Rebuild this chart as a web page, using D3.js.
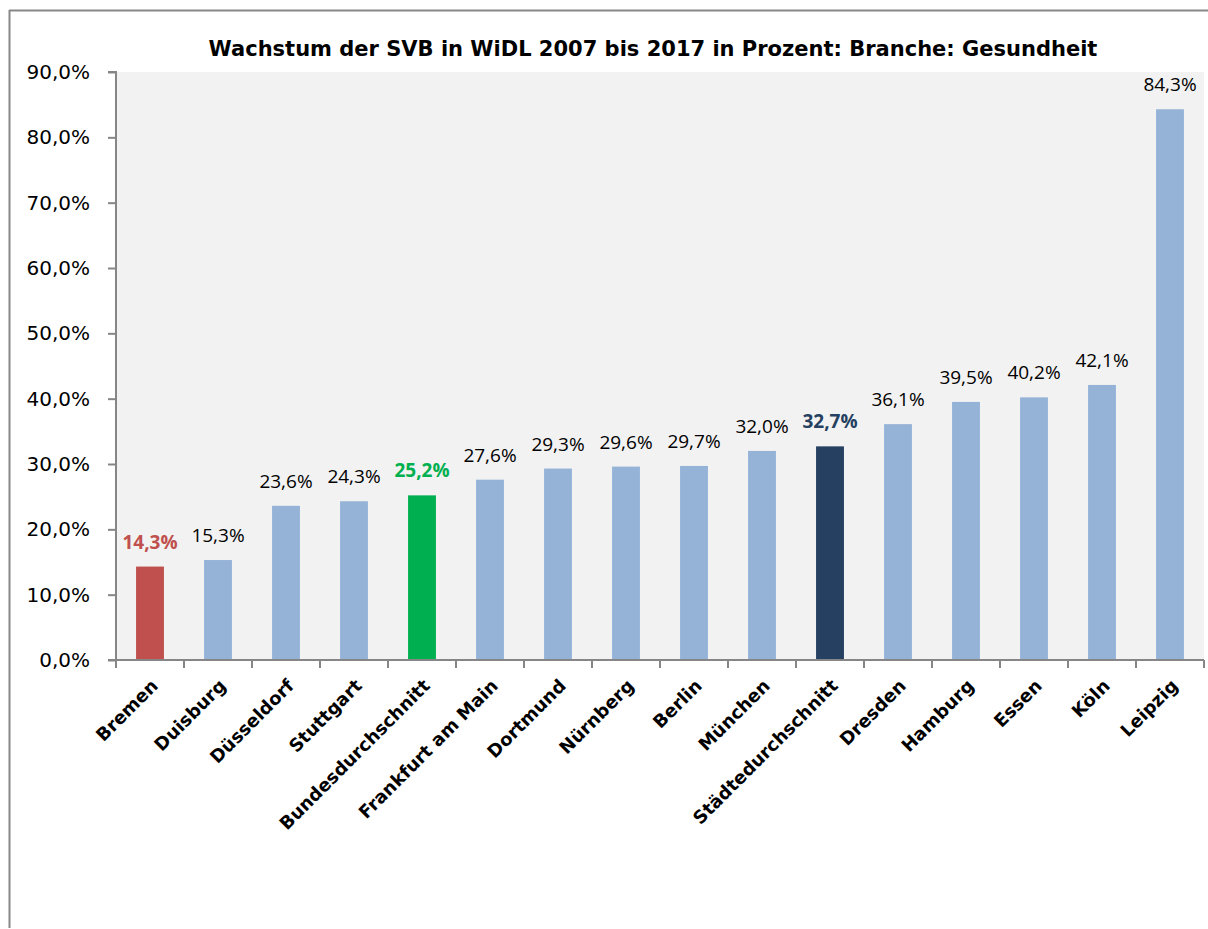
<!DOCTYPE html>
<html>
<head>
<meta charset="utf-8">
<script src="https://cdn.jsdelivr.net/npm/d3@7"></script>
<style>
  body { margin: 0; background: #fff; }
</style>
</head>
<body>
<script>
// daten aus dem diagramm
var categories = ['Bremen', 'Duisburg', 'Düsseldorf', 'Stuttgart', 'Bundesdurchschnitt', 'Frankfurt am Main',
  'Dortmund', 'Nürnberg', 'Berlin', 'München', 'Städtedurchschnitt', 'Dresden', 'Hamburg', 'Essen', 'Köln', 'Leipzig'];
var values = [14.3, 15.3, 23.6, 24.3, 25.2, 27.6, 29.3, 29.6, 29.7, 32.0, 32.7, 36.1, 39.5, 40.2, 42.1, 84.3];
var yTicks = [0, 10, 20, 30, 40, 50, 60, 70, 80, 90];
var title = 'Wachstum der SVB in WiDL 2007 bis 2017 in Prozent: Branche: Gesundheit';

// besondere balken
var highlight = { 'Bremen': '#C0504D', 'Bundesdurchschnitt': '#00B050', 'Städtedurchschnitt': '#254061' };
var barColor = '#95B3D7';

var width = 1208, height = 929;
var margin = { top: 72, right: 4, bottom: 269, left: 116 };

var svg = d3.select('body').append('svg')
  .attr('width', width)
  .attr('height', height);

// rahmen
svg.append('line').attr('x1', 9.5).attr('x2', 9.5).attr('y1', 10).attr('y2', 928)
  .style('stroke', '#888').style('stroke-width', 2);
svg.append('line').attr('x1', 9).attr('x2', width).attr('y1', 10.5).attr('y2', 10.5)
  .style('stroke', '#888').style('stroke-width', 2);

var x = d3.scaleBand().domain(categories).range([margin.left, width - margin.right]).paddingInner(0.59).paddingOuter(0.295);
var xTicks = d3.scaleBand().domain(categories).range([margin.left, width - margin.right]);
var y = d3.scaleLinear().domain([0, 90]).range([height - margin.bottom, margin.top]);

// hintergrund
svg.append('rect')
  .attr('x', margin.left).attr('y', margin.top)
  .attr('width', width - margin.right - margin.left)
  .attr('height', y(0) - margin.top)
  .style('fill', '#F2F2F2');

// titel
svg.append('text')
  .attr('x', 653).attr('y', 56)
  .attr('text-anchor', 'middle')
  .style('font-family', 'DejaVu Sans, Verdana, sans-serif')
  .style('font-weight', 'bold')
  .style('font-size', '21px')
  .text(title);

// balken
svg.selectAll('rect.bar')
  .data(values)
  .enter()
  .append('rect')
  .attr('class', 'bar')
  .attr('x', function (d, i) { return x(categories[i]); })
  .attr('y', function (d) { return y(d); })
  .attr('width', x.bandwidth())
  .attr('height', function (d) { return y(0) - y(d); })
  .style('fill', function (d, i) { return highlight[categories[i]] || barColor; });

// werte
svg.selectAll('text.val')
  .data(values)
  .enter()
  .append('text')
  .attr('class', 'val')
  .attr('x', function (d, i) { return x(categories[i]) + x.bandwidth() / 2; })
  .attr('y', function (d) { return y(d) - 18; })
  .attr('text-anchor', 'middle')
  .style('font-family', 'Open Sans, sans-serif')
  .style('font-size', '19px')
  .style('font-weight', function (d, i) { return highlight[categories[i]] ? 'bold' : 'normal'; })
  .style('fill', function (d, i) { return highlight[categories[i]] || '#000'; })
  .text(function (d) { return d.toFixed(1).replace('.', ',') + '%'; });

// y achse
var yAxis = svg.append('g')
  .attr('transform', 'translate(' + margin.left + ',0)')
  .call(d3.axisLeft(y).tickValues(yTicks).tickSize(8).tickPadding(18)
    .tickFormat(function (d) { return d.toFixed(1).replace('.', ',') + '%'; }));
yAxis.select('.domain').attr('d', 'M-8,' + y(90) + 'H0V' + y(0) + 'H-8');
yAxis.selectAll('path, line').style('stroke', '#868686').style('stroke-width', 2);
yAxis.selectAll('text')
  .style('font-family', 'DejaVu Sans, Verdana, sans-serif')
  .style('font-size', '20px')
  .style('fill', '#000');

// x achse
var xAxis = svg.append('g')
  .attr('transform', 'translate(0,' + y(0) + ')');
xAxis.append('line')
  .attr('x1', margin.left).attr('x2', width - margin.right)
  .style('stroke', '#868686').style('stroke-width', 2);
xAxis.selectAll('line.tick')
  .data(categories.concat(['end']))
  .enter()
  .append('line')
  .attr('class', 'tick')
  .attr('x1', function (d, i) { return margin.left + i * xTicks.bandwidth(); })
  .attr('x2', function (d, i) { return margin.left + i * xTicks.bandwidth(); })
  .attr('y1', 0).attr('y2', 8)
  .style('stroke', '#868686').style('stroke-width', 2);

// kategorien, schräg
svg.selectAll('text.cat')
  .data(categories)
  .enter()
  .append('text')
  .attr('class', 'cat')
  .attr('text-anchor', 'end')
  .attr('transform', function (d) {
    var cx = x(d) + x.bandwidth() / 2 + 9;
    return 'translate(' + cx + ',' + (y(0) + 27) + ') rotate(-45)';
  })
  .style('font-family', 'DejaVu Sans, Verdana, sans-serif')
  .style('font-weight', 'bold')
  .style('font-size', '18px')
  .text(function (d) { return d; });
</script>
</body>
</html>
